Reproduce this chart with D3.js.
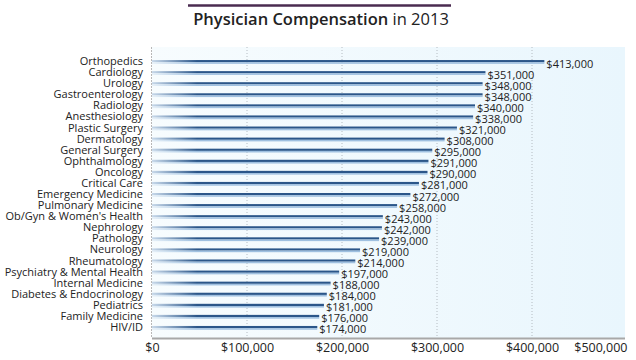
<!DOCTYPE html>
<html><head><meta charset="utf-8">
<script src="https://cdn.jsdelivr.net/npm/d3@7"></script>
<style>
body{margin:0;background:#fff;}
svg{display:block;font-family:"Open Sans",sans-serif;}
</style></head>
<body>
<script>
const categories = ["Orthopedics","Cardiology","Urology","Gastroenterology","Radiology","Anesthesiology","Plastic Surgery","Dermatology","General Surgery","Ophthalmology","Oncology","Critical Care","Emergency Medicine","Pulmonary Medicine","Ob/Gyn & Women's Health","Nephrology","Pathology","Neurology","Rheumatology","Psychiatry & Mental Health","Internal Medicine","Diabetes & Endocrinology","Pediatrics","Family Medicine","HIV/ID"];
const values = [413000,351000,348000,348000,340000,338000,321000,308000,295000,291000,290000,281000,272000,258000,243000,242000,239000,219000,214000,197000,188000,184000,181000,176000,174000];
const tickValues = [0,100000,200000,300000,400000,500000];

const FONT = "'Open Sans',sans-serif";
const W = 636, H = 360;
const svg = d3.select("body").append("svg").attr("width", W).attr("height", H);
const defs = svg.append("defs");

const x = d3.scaleLinear().domain([0, 500000]).range([152, 627]);
const y = d3.scaleBand().domain(categories).range([56, 333]);
const plotTop = 47, plotBottom = 338, plotRight = 625;

// background gradient
const bg = defs.append("linearGradient").attr("id","bg").attr("x1","0").attr("x2","1").attr("y1","0").attr("y2","0");
bg.append("stop").attr("offset","0").attr("stop-color","#f7fcfe");
bg.append("stop").attr("offset","1").attr("stop-color","#e9f6fd");
svg.append("rect").attr("x", x(0)).attr("y", plotTop).attr("width", plotRight - x(0)).attr("height", plotBottom - plotTop).attr("fill","url(#bg)");

// bar gradients
const gd = defs.append("linearGradient").attr("id","gdark").attr("gradientUnits","userSpaceOnUse").attr("x1", x(0)).attr("x2", x(0)+45).attr("y1",0).attr("y2",0);
gd.append("stop").attr("offset","0").attr("stop-color","#c8d9ea");
gd.append("stop").attr("offset","1").attr("stop-color","#2b5689");
const gl = defs.append("linearGradient").attr("id","glight").attr("gradientUnits","userSpaceOnUse").attr("x1", x(0)).attr("x2", x(0)+45).attr("y1",0).attr("y2",0);
gl.append("stop").attr("offset","0").attr("stop-color","#e6f0f8");
gl.append("stop").attr("offset","1").attr("stop-color","#9fc0e0");

// gridlines
svg.append("g").selectAll("line").data(tickValues.slice(1,5)).join("line")
  .attr("x1", d => x(d)).attr("x2", d => x(d))
  .attr("y1", plotTop).attr("y2", plotBottom)
  .attr("stroke", "#b5bcc2").attr("stroke-width", 1).attr("stroke-dasharray","1,2");

// left axis line
svg.append("line").attr("x1", x(0)-0.5).attr("x2", x(0)-0.5).attr("y1", plotTop).attr("y2", plotBottom)
  .attr("stroke","#b8b8b8").attr("stroke-width",1).attr("stroke-dasharray","2,1");

// bars
const bars = svg.append("g");
categories.forEach((c,i) => {
  const cy = y(c) + y.bandwidth()/2;
  bars.append("rect").attr("x", x(0)).attr("y", cy - 1.5).attr("width", x(values[i]) - x(0)).attr("height", 2.2).attr("fill","url(#gdark)");
  bars.append("rect").attr("x", x(0)).attr("y", cy + 0.7).attr("width", x(values[i]) - x(0)).attr("height", 1.6).attr("fill","url(#glight)");
});

// value labels
svg.append("g").selectAll("text").data(categories).join("text")
  .attr("x", (c,i) => x(values[i]) + 2)
  .attr("y", c => y(c) + y.bandwidth()/2 + 6)
  .attr("font-size", 11).attr("fill","#222")
  .text((c,i) => d3.format("$,")(values[i]));

// category labels
const yAxis = d3.axisLeft(y).tickSize(0).tickPadding(0);
const ya = svg.append("g").attr("transform", `translate(143,0)`).call(yAxis);
ya.select(".domain").remove();
ya.selectAll("text").attr("font-size", 11).attr("fill","#222").attr("font-family", FONT);

// bottom axis
svg.append("line").attr("x1", x(0)).attr("x2", plotRight).attr("y1", plotBottom + 0.5).attr("y2", plotBottom + 0.5).attr("stroke","#a8a8a8").attr("stroke-width",2);
const xa = svg.append("g").attr("transform", `translate(0,${plotBottom})`)
  .call(d3.axisBottom(x).tickValues(tickValues).tickSize(0).tickPadding(0).tickFormat(d3.format("$,")));
xa.select(".domain").remove();
xa.selectAll("text").attr("font-size", 12.5).attr("fill","#222").attr("font-family", FONT)
  .attr("dy", "1.15em")
  .attr("text-anchor", d => d === 500000 ? "end" : "middle");

// title
svg.append("line").attr("x1", 188).attr("x2", 451).attr("y1", 5.5).attr("y2", 5.5).attr("stroke","#4a2b50").attr("stroke-width",2.5);
const t = svg.append("text").attr("x", 321).attr("y", 25).attr("text-anchor","middle").attr("font-size", 16.5).attr("fill","#222");
t.append("tspan").attr("font-weight", 600).text("Physician Compensation");
t.append("tspan").attr("font-weight", 400).text(" in 2013");
</script>
</body></html>
